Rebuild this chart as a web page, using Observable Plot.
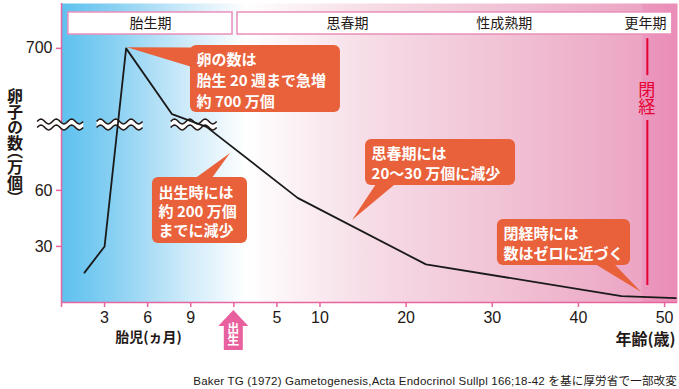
<!DOCTYPE html>
<html><head><meta charset="utf-8">
<script src="https://cdn.jsdelivr.net/npm/d3@7"></script>
<script src="https://cdn.jsdelivr.net/npm/@observablehq/plot@0.6"></script>
<style>
body{margin:0;background:#fff;font-family:"Noto Sans CJK JP",sans-serif;}
#caption{font-family:"Liberation Sans","Noto Sans CJK JP",sans-serif;font-size:11.5px;letter-spacing:0.2px;line-height:14px;color:#231815;text-align:right;padding:4px 2px 0 0;}
</style></head><body><div id="chart"></div><div id="caption"></div>
<script>
// ---- data ----
const fetalMonths = [1.6, 3, 4.5, 7.7, 10.1];      // 胎児（ヵ月）
const fetalEggs   = [16, 30, 700, 180, 94];         // 万個
const ageYears    = [7.4, 22.3, 45, 51.3];          // 年齢（歳）
const ageEggs     = [56, 20.4, 3.4, 2.3];           // 万個
const fetalTickMonths = [3, 6, 9];
const ageTickYears    = [5, 10, 20, 30, 40, 50];
const yTickValues     = [30, 60, 700];
const stageNames = ["胎生期", "思春期", "性成熟期", "更年期"];
const menopauseAge = 48;
const calloutTexts = [
  "卵の数は\n胎生 20 週まで急増\n約 700 万個",
  "出生時には\n約 200 万個\nまでに減少",
  "思春期には\n20〜30 万個に減少",
  "閉経時には\n数はゼロに近づく"
];
const captionText = "Baker TG (1972) Gametogenesis,Acta Endocrinol Sullpl 166;18-42 を基に厚労省で一部改変";

// ---- axis transforms (broken axes) ----
const monthsToU = m => (m - 12) * 5 / 3;   // fetal months -> composite x (birth = 0)
const yBreak = 95, upperCompress = 14.76;
const yc = v => v <= yBreak ? v : yBreak + (v - yBreak) / upperCompress;

const points = fetalMonths.map((m, i) => ({u: monthsToU(m), c: yc(fetalEggs[i])}))
  .concat(ageYears.map((a, i) => ({u: a, c: yc(ageEggs[i])})));

const xTicks = [-20, ...fetalTickMonths.map(monthsToU), 0, ...ageTickYears];
const xLabels = new Map([[-20, ""], [0, ""]]);
fetalTickMonths.forEach(m => xLabels.set(monthsToU(m), String(m)));
ageTickYears.forEach(a => xLabels.set(a, String(a)));
const yTicks = yTickValues.map(yc);
const yLabels = new Map(yTickValues.map(v => [yc(v), String(v)]));

// ---- layout (annotation placement) ----
const pink = "#e8649f", ink = "#231815", orange = "#e9613b", red = "#e60033";
const numFont = "'Liberation Sans', sans-serif";
const stageBoxes = [{x1: -19.2, x2: -0.15}, {x1: 0.43, x2: 50.9}];
const stageX = [-9.67, 13.2, 31.4, 47.8];
const stages = stageNames.map((s, i) => ({s, x: stageX[i]}));
const callouts = [
  {x1: -5.03, x2: 12.38, y1: 101.7, y2: 137.5, lh: 1.4, tip: [-12.35, 136.3], base: [[-4.6, 136.2], [-4.6, 125.5]]},
  {x1: -9.44, x2: 1.59, y1: 31.6, y2: 66.9, lh: 1.27, tip: [-0.38, 79.7], base: [[-4.79, 65], [-2.7, 65]]},
  {x1: 15.29, x2: 32.7, y1: 62.6, y2: 87.2, lh: 1.33, tip: [13.78, 43.9], base: [[16.68, 64], [19.0, 64]]},
  {x1: 30.6, x2: 46.05, y1: 19.8, y2: 44.4, lh: 1.33, tip: [47.34, 5.35], base: [[41.75, 21], [44.07, 21]]}
].map((d, i) => ({...d, text: calloutTexts[i]}));
const breakX = [-20.1, -13.2, -4.6];

function defs() {
  const d = d3.create("svg:defs");
  const g = d.append("linearGradient").attr("id", "bg").attr("x1", 0).attr("x2", 1).attr("y1", 0).attr("y2", 0);
  [[0, "#5dc1ee"], [0.08, "#86cff2"], [0.2, "#cdeaf9"], [0.3, "#ffffff"], [0.5, "#f6dce6"],
   [0.75, "#f0bed2"], [0.94, "#eca5c4"], [0.945, "#eb97bd"], [1, "#ea8db7"]]
    .forEach(([o, c]) => g.append("stop").attr("offset", o).attr("stop-color", c));
  return d.node();
}
function pointers(index, scales) {
  const g = d3.create("svg:g").attr("fill", orange);
  for (const c of callouts) {
    const pts = [c.tip, ...c.base].map(([u, v]) => [scales.x(u), scales.y(v)]);
    g.append("path").attr("d", "M" + pts.join("L") + "Z");
  }
  return g.node();
}
function breaks(index, scales) {
  const g = d3.create("svg:g");
  const w = 46, A = 2.4, gap = 3, N = 72;
  for (const u of breakX) {
    const cx = scales.x(u), cy = scales.y(yBreak);
    const top = d3.range(N + 1).map(i => {
      const x = cx - w / 2 + w * i / N;
      return [x, cy - gap - A * Math.sin(2 * Math.PI * (i / N) * 3)];
    });
    const bot = top.map(([x, y]) => [x, y + 2 * gap]);
    g.append("path").attr("d", d3.line()(top.concat(bot.slice().reverse())) + "Z").attr("fill", "#fff");
    for (const line of [top, bot])
      g.append("path").attr("d", d3.line()(line)).attr("fill", "none").attr("stroke", ink).attr("stroke-width", 1.5);
  }
  return g.node();
}
function verticalTexts(index, scales) {
  const g = d3.create("svg:g").attr("font-family", "'Noto Sans CJK JP', sans-serif");
  g.append("text").attr("x", 15).attr("y", 143).attr("text-anchor", "middle")
    .attr("style", "writing-mode: vertical-rl; font-feature-settings: 'vpal';")
    .attr("font-size", 16).attr("font-weight", "bold").attr("fill", ink).text("卵子の数（万個）");
  g.append("text").attr("x", scales.x(menopauseAge)).attr("y", scales.y(109)).attr("text-anchor", "middle")
    .attr("style", "writing-mode: vertical-rl;").attr("font-size", 17).attr("fill", red).text("閉経");
  // birth arrow
  const bx = scales.x(0), y0 = scales.y(0);
  const tip = y0 + 8, hb = y0 + 24, bottom = y0 + 48;
  g.append("path").attr("fill", "#e8609e")
    .attr("d", `M${bx},${tip}L${bx + 15},${hb}L${bx + 9.5},${hb}L${bx + 9.5},${bottom}L${bx - 9.5},${bottom}L${bx - 9.5},${hb}L${bx - 15},${hb}Z`);
  g.append("text").attr("x", bx).attr("y", y0 + 32).attr("text-anchor", "middle")
    .attr("style", "writing-mode: vertical-rl;").attr("font-size", 12).attr("font-weight", "bold").attr("fill", "#fff").text("出生");
  return g.node();
}

const plot = Plot.plot({
  width: 679, height: 370,
  marginLeft: 61, marginRight: 2, marginTop: 3, marginBottom: 68,
  x: {domain: [-20, 51.5], axis: null},
  y: {domain: [0, 160], axis: null},
  style: {fontFamily: "'Noto Sans CJK JP', sans-serif", background: "transparent", color: ink},
  marks: [
    defs,
    Plot.frame({fill: "url(#bg)", stroke: "none"}),
    Plot.rect(stageBoxes, {x1: "x1", x2: "x2", y1: 143.4, y2: 155.2, fill: "#fff", stroke: "#e98fba", strokeWidth: 1.5}),
    Plot.text(stages, {x: "x", y: 149.3, text: "s", fontSize: 14, fill: ink}),
    Plot.ruleX([menopauseAge], {y1: 121.4, y2: 141.2, stroke: red, strokeWidth: 2}),
    Plot.ruleX([menopauseAge], {y1: 9.1, y2: 97.4, stroke: red, strokeWidth: 2}),
    Plot.ruleX([-20], {stroke: pink, strokeWidth: 1.5}),
    Plot.ruleY([0], {stroke: pink, strokeWidth: 1.5}),
    breaks,
    Plot.line(points, {x: "u", y: "c", stroke: "#1a1a1a", strokeWidth: 1.8}),
    pointers,
    Plot.rect(callouts, {x1: "x1", x2: "x2", y1: "y1", y2: "y2", fill: orange, rx: 6}),
    ...callouts.map(c => Plot.text([c], {x: "x1", y: d => (d.y1 + d.y2) / 2, text: "text", dx: 6, textAnchor: "start",
      lineAnchor: "middle", lineHeight: c.lh, fontSize: 15, fontWeight: "bold", fill: "#fff"})),
    Plot.axisX({ticks: xTicks, tickFormat: d => xLabels.get(d) ?? "", tickSize: 5, tickPadding: 4,
      stroke: pink, fill: ink, fontSize: 16, fontFamily: numFont, label: null, strokeWidth: 1.5}),
    Plot.axisY({ticks: yTicks, tickFormat: d => yLabels.get(d) ?? "", tickSize: 5, tickPadding: 4,
      stroke: pink, fill: ink, fontSize: 16, fontFamily: numFont, label: null, strokeWidth: 1.5}),
    Plot.text(["胎児(ヵ月)"], {x: -9.9, y: -18.7, text: d => d, fontSize: 14, fontWeight: "bold", fill: ink}),
    Plot.text(["年齢(歳)"], {x: 51.27, y: -19.8, text: d => d, fontSize: 16, fontWeight: "bold", fill: ink, textAnchor: "end"}),
    verticalTexts
  ]
});
document.getElementById("chart").appendChild(plot);
document.getElementById("caption").textContent = captionText;
</script></body></html>
